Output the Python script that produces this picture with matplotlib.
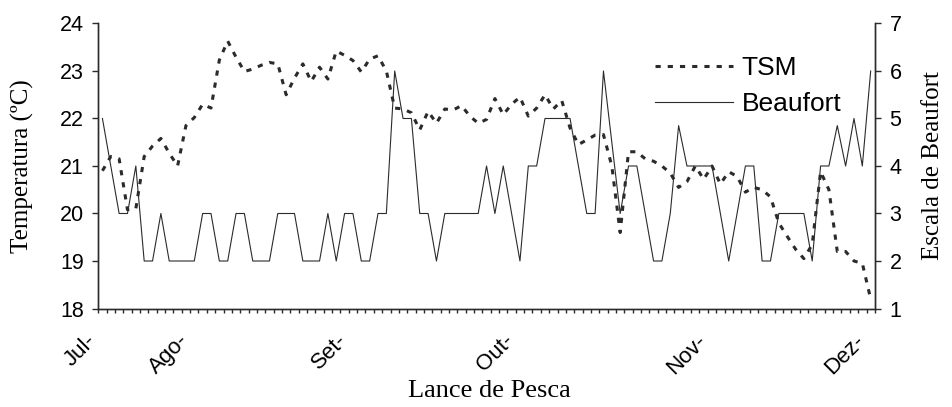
import matplotlib
matplotlib.use("Agg")
import matplotlib.pyplot as plt
import matplotlib.transforms as mtransforms
import numpy as np

# Temperatura superficial do mar por lance (ºC)
tsm = [20.9, 21.2, 21.15, 20.08, 20.1, 21.2, 21.42, 21.58, 21.27, 21.0,
       21.85, 22.02, 22.3, 22.22, 23.23, 23.63, 23.29, 22.99, 23.04, 23.12,
       23.18, 23.15, 22.5, 22.85, 23.15, 22.78, 23.08, 22.83, 23.42, 23.33,
       23.22, 22.98, 23.25, 23.32, 23.0, 22.22, 22.2, 22.12, 21.76, 22.15,
       21.9, 22.2, 22.18, 22.27, 22.05, 21.9, 21.98, 22.42, 22.08, 22.3,
       22.45, 22.05, 22.22, 22.5, 22.2, 22.38, 21.8, 21.45, 21.55, 21.65,
       21.66, 21.0, 19.6, 21.3, 21.3, 21.15, 21.1, 21.0, 20.85, 20.55,
       20.67, 21.0, 20.72, 21.0, 20.62, 20.88, 20.78, 20.45, 20.55, 20.5,
       20.35, 19.8, 19.52, 19.25, 19.05, 19.35, 20.88, 20.5, 19.2, 19.2,
       19.0, 18.95, 18.2]

# Escala de Beaufort por lance
beaufort = [5, 4, 3, 3, 4, 2, 2, 3, 2, 2,
            2, 2, 3, 3, 2, 2, 3, 3, 2, 2,
            2, 3, 3, 3, 2, 2, 2, 3, 2, 3,
            3, 2, 2, 3, 3, 6, 5, 5, 3, 3,
            2, 3, 3, 3, 3, 3, 4, 3, 4, 3,
            2, 4, 4, 5, 5, 5, 5, 4, 3, 3,
            6, 4.5, 3, 4, 4, 3, 2, 2, 3, 4.85,
            4, 4, 4, 4, 3, 2, 3, 4, 4, 2,
            2, 3, 3, 3, 3, 2, 4, 4, 4.85, 4,
            5, 4, 6]

# lances onde comeca cada mes
month_labels = ['Jul-', 'Ago-', 'Set-', 'Out-', 'Nov-', 'Dez-']
month_pos = [0, 11, 30, 50, 73, 92]

lances = np.arange(len(tsm))
dark = '#2b2b2b'

fig = plt.figure(figsize=(9.53, 4.07), dpi=100)
ax = fig.add_axes([0.1031, 0.242, 0.8149, 0.7003])
ax2 = ax.twinx()

l1, = ax.plot(lances, tsm, color=dark, lw=2.2, dashes=(1.7, 2.3), label='TSM')
l2, = ax2.plot(lances, beaufort, color=dark, lw=0.8, label='Beaufort')

ax.set_xlim(-0.5, len(tsm) - 0.5)
ax.set_ylim(18, 24)
ax2.set_ylim(1, 7)
ax.set_yticks(range(18, 25))
ax2.set_yticks(range(1, 8))

for a in (ax, ax2):
    a.spines['top'].set_visible(False)
    for s in a.spines.values():
        s.set_color(dark)
        s.set_linewidth(1)

sans = 'Liberation Sans'
serif = 'Liberation Serif'

ax.tick_params(axis='y', direction='out', length=4.5, width=1, color=dark,
               pad=6, labelsize=15.5)
ax2.tick_params(axis='y', direction='out', length=4.5, width=1, color=dark,
                pad=6, labelsize=15.5)
for lab in ax.get_yticklabels() + ax2.get_yticklabels():
    lab.set_family(sans)

# marcas pequenas entre lances, rotulos so no inicio dos meses
ax.set_xticks(np.arange(-0.5, len(tsm)), minor=True)
ax.set_xticks(month_pos)
ax.set_xticklabels(month_labels, family=sans, fontsize=16, rotation=45,
                   ha='right', va='center', rotation_mode='anchor')
ax.tick_params(axis='x', which='major', length=0, pad=21)
ax.tick_params(axis='x', which='minor', direction='out', length=3, width=1,
               color=dark)
shift = mtransforms.ScaledTranslation(-0.09, 0, fig.dpi_scale_trans)
for lab in ax.get_xticklabels():
    lab.set_transform(lab.get_transform() + shift)

ax.set_ylabel('Temperatura (ºC)', family=serif, fontsize=18)
ax.yaxis.set_label_coords(-0.083, 0.5)
ax2.set_ylabel('Escala de Beaufort', family=serif, fontsize=18)
ax2.yaxis.set_label_coords(1.061, 0.5)
ax.set_xlabel('Lance de Pesca', family=serif, fontsize=19)
ax.xaxis.set_label_coords(0.504, -0.25)

fig.legend([l1, l2], ['TSM', 'Beaufort'], loc='upper left',
           bbox_to_anchor=(0.687, 0.862), frameon=False, borderpad=0,
           borderaxespad=0, handlelength=2.95, handletextpad=0.34,
           labelspacing=0.44, prop={'family': sans, 'size': 19})

fig.savefig('out.png', dpi=100)
